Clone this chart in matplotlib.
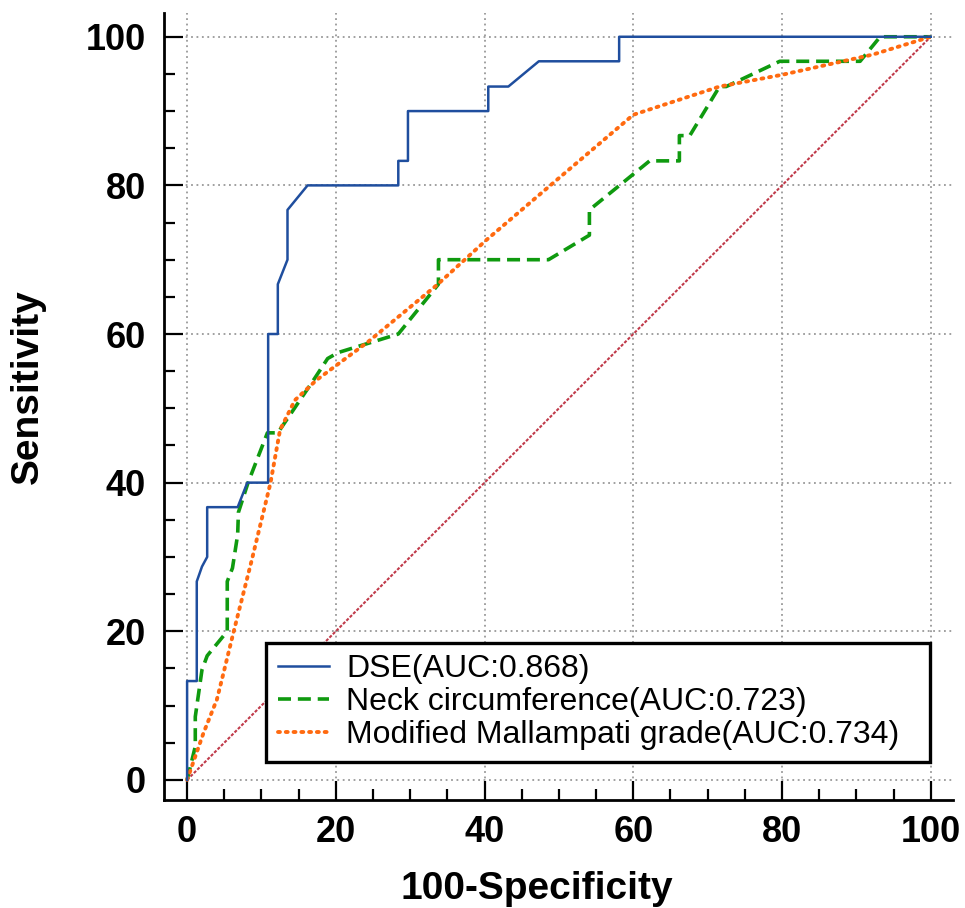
import matplotlib
matplotlib.use("Agg")
import matplotlib.pyplot as plt
from matplotlib.ticker import MultipleLocator

plt.rcParams['font.family'] = ['Liberation Sans', 'DejaVu Sans']

# ROC points (100-Specificity, Sensitivity)
dse_x = [0, 0, 1.3, 1.3, 2.0, 2.7, 2.7, 6.8, 8.1, 10.9, 10.9, 12.2, 12.2, 13.5, 13.5,
         16.2, 28.4, 28.4, 29.7, 29.7, 40.5, 40.5, 43.2, 47.3, 58.1, 58.1, 100]
dse_y = [0, 13.3, 13.3, 26.7, 28.7, 30.0, 36.7, 36.7, 40.0, 40.0, 60.0, 60.0, 66.7, 70.0, 76.7,
         80.0, 80.0, 83.3, 83.3, 90.0, 90.0, 93.3, 93.3, 96.7, 96.7, 100, 100]

neck_x = [0, 1.1, 1.1, 2.0, 2.7, 5.4, 5.4, 6.1, 6.8, 6.9, 8.2, 10.8, 12.2, 17.0, 18.9, 20.3,
          28.4, 33.8, 33.8, 48.6, 54.1, 54.1, 62.2, 66.2, 66.2, 67.6, 71.6, 72.5, 79.7, 90.5,
          93.2, 100]
neck_y = [0, 4.5, 8.5, 14.8, 16.7, 20.0, 26.7, 28.5, 33.0, 36.0, 40.0, 46.7, 46.7, 53.8, 56.7,
          57.5, 60.0, 66.7, 70.0, 70.0, 73.3, 76.7, 83.3, 83.3, 86.7, 86.7, 93.3, 93.3, 96.7,
          96.7, 100, 100]

mall_x = [0, 2.2, 4.0, 4.9, 6.2, 8.7, 11.2, 12.5, 14.5, 17.4, 24.4, 33.6, 40.3, 49.2, 60.0,
          71.6, 80.1, 92.2, 100]
mall_y = [0, 6.3, 10.8, 14.4, 19.7, 29.6, 39.9, 47.1, 51.1, 53.8, 59.0, 66.6, 72.7, 80.3, 89.5,
          93.3, 94.9, 97.6, 100]

ref_x = [0, 100]
ref_y = [0, 100]

labels = ['DSE(AUC:0.868)', 'Neck circumference(AUC:0.723)',
          'Modified Mallampati grade(AUC:0.734)']

fig = plt.figure(figsize=(9.65, 9.08), dpi=100)
ax = fig.add_axes([0.170, 0.119, 0.8176, 0.8667])

ax.plot(ref_x, ref_y, color='#c03a4a', lw=1.5, linestyle=(0, (1.5, 0.8)), zorder=2)
ax.plot(dse_x, dse_y, color='#1f4e9e', lw=1.8, label=labels[0], zorder=4)
ax.plot(neck_x, neck_y, color='#0f9a0f', lw=2.6, linestyle=(0, (3.6, 1.9)), label=labels[1], zorder=3)
ax.plot(mall_x, mall_y, color='#ff6a10', lw=2.8, linestyle=(0, (0.5, 1.5)),
        dash_capstyle='round', label=labels[2], zorder=3)

ax.set_xlim(-3.1, 103)
ax.set_ylim(-2.7, 103.2)
ax.xaxis.set_major_locator(MultipleLocator(20))
ax.xaxis.set_minor_locator(MultipleLocator(5))
ax.yaxis.set_major_locator(MultipleLocator(20))
ax.yaxis.set_minor_locator(MultipleLocator(5))

for s in ['top', 'right']:
    ax.spines[s].set_visible(False)
for s in ['left', 'bottom']:
    ax.spines[s].set_linewidth(2.0)

ax.tick_params(which='major', direction='in', length=14, width=1.6, labelsize=26)
ax.tick_params(axis='y', which='major', pad=13)
ax.tick_params(axis='x', which='major', pad=11)
ax.tick_params(which='minor', direction='in', length=8, width=1.6)
for lab in ax.get_xticklabels() + ax.get_yticklabels():
    lab.set_fontweight('bold')

ax.grid(True, which='major', color='#999999', linestyle=(0, (1, 2)), lw=1.3, zorder=1)
ax.set_axisbelow(True)

ax.set_xlabel('100-Specificity', fontsize=28, fontweight='bold')
ax.set_ylabel('Sensitivity', fontsize=28, fontweight='bold')
ax.xaxis.set_label_coords(0.473, -0.090)
ax.yaxis.set_label_coords(-0.150, 0.525)

leg = ax.legend(loc='lower left', bbox_to_anchor=(0.1293, 0.0483, 0.8416, 0.1639),
                mode='expand', borderaxespad=0, fontsize=23, handlelength=1.6,
                handletextpad=0.55, labelspacing=0.1, borderpad=0.36, fancybox=False,
                framealpha=1, edgecolor='black')
leg.get_frame().set_linewidth(2.4)

fig.savefig('out.png', dpi=100)
